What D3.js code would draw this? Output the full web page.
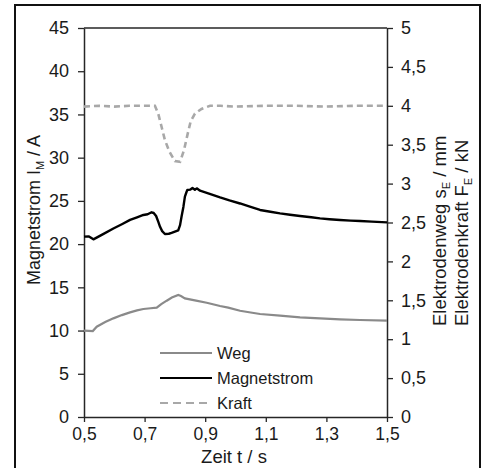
<!DOCTYPE html>
<html>
<head>
<meta charset="utf-8">
<script src="https://cdn.jsdelivr.net/npm/d3@7"></script>
<style>
  body { margin: 0; background: #fff; }
  text { font-family: "Liberation Sans", Arial, sans-serif; fill: #1a1a1a; }
</style>
</head>
<body>
<div id="chart"></div>
<script>
// Magnetstrom (left axis, A)
const tStrom = [0.5,0.515,0.531,0.56,0.597,0.625,0.652,0.675,0.696,0.71,0.723,0.73,0.738,0.745,0.751,0.758,0.767,0.78,0.789,0.8,0.811,0.817,0.822,0.828,0.833,0.838,0.841,0.85,0.858,0.866,0.872,0.883,0.91,0.949,0.98,1.015,1.05,1.081,1.115,1.147,1.18,1.213,1.25,1.279,1.31,1.345,1.38,1.411,1.45,1.5];
const strom = [20.86,20.9,20.55,21.1,21.8,22.3,22.8,23.1,23.37,23.45,23.68,23.6,23.25,22.6,22.0,21.5,21.17,21.2,21.3,21.45,21.6,22.2,23.2,24.3,25.5,26.0,26.26,26.3,26.5,26.3,26.45,26.18,25.88,25.4,25.05,24.7,24.3,23.95,23.75,23.56,23.4,23.25,23.1,22.98,22.88,22.79,22.72,22.67,22.6,22.52];

// Elektrodenweg (right axis, mm)
const tWeg = [0.5,0.529,0.542,0.57,0.597,0.625,0.652,0.675,0.696,0.72,0.74,0.755,0.773,0.79,0.811,0.82,0.833,0.87,0.905,0.949,0.976,1.015,1.05,1.081,1.147,1.213,1.279,1.345,1.411,1.5];
const weg = [1.109,1.105,1.161,1.22,1.268,1.31,1.345,1.37,1.388,1.398,1.405,1.45,1.495,1.535,1.568,1.555,1.525,1.495,1.469,1.427,1.405,1.366,1.343,1.324,1.302,1.281,1.268,1.255,1.247,1.238];

// Elektrodenkraft (right axis, kN)
const tKraft = [0.5,0.55,0.6,0.65,0.7,0.734,0.745,0.756,0.767,0.782,0.8,0.817,0.83,0.841,0.852,0.866,0.888,0.916,0.95,1.0,1.1,1.2,1.3,1.4,1.5];
const kraft = [3.99,4.0,3.99,4.0,4.0,4.0,3.90,3.73,3.56,3.41,3.29,3.28,3.43,3.62,3.80,3.90,3.96,4.0,4.0,3.99,4.0,4.0,3.99,4.0,4.0];

const xTicks = [0.5,0.7,0.9,1.1,1.3,1.5];
const yLeftTicks = [0,5,10,15,20,25,30,35,40,45];
const yRightTicks = [0,0.5,1,1.5,2,2.5,3,3.5,4,4.5,5];
const legendNames = ['Weg','Magnetstrom','Kraft'];

const width = 486, height = 468;
const margin = {top: 28, right: 99, bottom: 51, left: 84};
const iw = width - margin.left - margin.right, ih = height - margin.top - margin.bottom;

const svg = d3.select('#chart').append('svg')
  .attr('width', width).attr('height', height);

// outer frame
svg.append('rect').attr('x', 15).attr('y', 5).attr('width', 465).attr('height', 470)
  .attr('fill', 'none').attr('stroke', '#111').attr('stroke-width', 2);

const g = svg.append('g').attr('transform', `translate(${margin.left},${margin.top})`);

const x = d3.scaleLinear().domain([0.5, 1.5]).range([0, iw]);
const yL = d3.scaleLinear().domain([0, 45]).range([ih, 0]);
const yR = d3.scaleLinear().domain([0, 5]).range([ih, 0]);

const comma = d => String(d).replace('.', ',');

function styleAxis(sel, fs) {
  sel.select('.domain').attr('stroke', '#262626').attr('stroke-width', 1.5);
  sel.selectAll('.tick line').attr('stroke', '#262626').attr('stroke-width', 1.3);
  sel.selectAll('.tick text').style('font-size', fs || '18px').attr('fill', '#1a1a1a');
}

g.append('g').attr('transform', `translate(0,${ih})`)
  .call(d3.axisBottom(x).tickValues(xTicks).tickFormat(comma).tickSizeInner(5).tickSizeOuter(0).tickPadding(6))
  .call(styleAxis, '17.5px');
g.append('g')
  .call(d3.axisLeft(yL).tickValues(yLeftTicks).tickSizeInner(6).tickSizeOuter(0).tickPadding(9))
  .call(styleAxis);
g.append('g').attr('transform', `translate(${iw},0)`)
  .call(d3.axisRight(yR).tickValues(yRightTicks).tickFormat(comma).tickSizeInner(6).tickSizeOuter(0).tickPadding(8))
  .call(styleAxis);
// top border of plot
g.append('line').attr('x1', 0).attr('x2', iw).attr('y1', 0).attr('y2', 0)
  .attr('stroke', '#262626').attr('stroke-width', 1.5);

// series
const lineL = d3.line().x(d => x(d[0])).y(d => yL(d[1]));
const lineR = d3.line().x(d => x(d[0])).y(d => yR(d[1]));

g.append('path').datum(d3.zip(tWeg, weg)).attr('d', lineR)
  .attr('fill', 'none').attr('stroke', '#8a8a8a').attr('stroke-width', 2.2);
g.append('path').datum(d3.zip(tKraft, kraft)).attr('d', lineR)
  .attr('fill', 'none').attr('stroke', '#a8a8a8').attr('stroke-width', 2.6)
  .attr('stroke-dasharray', '6,4');
g.append('path').datum(d3.zip(tStrom, strom)).attr('d', lineL)
  .attr('fill', 'none').attr('stroke', '#000').attr('stroke-width', 2.4)
  .attr('stroke-linejoin', 'round');

// legend
const legStyles = [
  {stroke: '#8a8a8a', dash: null},
  {stroke: '#000', dash: null},
  {stroke: '#a8a8a8', dash: '8,5'}
];
const leg = svg.append('g');
legendNames.forEach((name, i) => {
  const yy = 353 + i * 25;
  leg.append('line').attr('x1', 160).attr('x2', 212).attr('y1', yy).attr('y2', yy)
    .attr('stroke', legStyles[i].stroke).attr('stroke-width', 2.2)
    .attr('stroke-dasharray', legStyles[i].dash);
  leg.append('text').attr('x', 217).attr('y', yy).attr('dy', '0.35em')
    .style('font-size', '16.5px').text(name);
});

// axis titles
const ytl = svg.append('text').attr('transform', 'translate(40,210) rotate(-90)')
  .attr('text-anchor', 'middle').style('font-size', '18px');
ytl.append('tspan').text('Magnetstrom I');
ytl.append('tspan').attr('dy', 4).style('font-size', '11px').text('M');
ytl.append('tspan').attr('dy', -4).text(' / A');

const r1 = svg.append('text').attr('transform', 'translate(446,326) rotate(-90)')
  .attr('text-anchor', 'start').style('font-size', '18.5px');
r1.append('tspan').text('Elektrodenweg s');
r1.append('tspan').attr('dy', 4).style('font-size', '11px').text('E');
r1.append('tspan').attr('dy', -4).text(' / mm');

const r2 = svg.append('text').attr('transform', 'translate(468,326) rotate(-90)')
  .attr('text-anchor', 'start').style('font-size', '18.5px');
r2.append('tspan').text('Elektrodenkraft F');
r2.append('tspan').attr('dy', 4).style('font-size', '11px').text('E');
r2.append('tspan').attr('dy', -4).text(' / kN');

svg.append('text').attr('x', 234).attr('y', 463).attr('text-anchor', 'middle')
  .style('font-size', '18.5px').text('Zeit t / s');
</script>
</body>
</html>
